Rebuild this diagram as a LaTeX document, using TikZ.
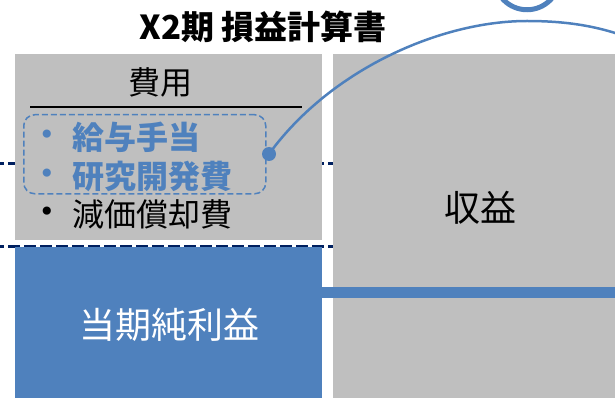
\documentclass[tikz,border=0pt]{standalone}
\usepackage{fontspec}
\newfontfamily\jp{Noto Sans CJK JP}
\newfontfamily\sym{DejaVu Sans}
\definecolor{boxgray}{HTML}{BFBFBF}
\definecolor{accent}{HTML}{4F81BD}
\definecolor{navy}{HTML}{002060}
\begin{document}
\begin{tikzpicture}[x=1pt,y=-1pt,
  panel/.style={fill=boxgray, draw=none, anchor=north west, inner sep=0pt},
  guide/.style={draw=navy, line width=3pt, dash pattern=on 12pt off 4pt, dash phase=8pt},
  label/.style={font=\jp\fontsize{#1}{#1}\selectfont, inner sep=0pt},
  boldlabel/.style={font=\jp\bfseries\fontsize{#1}{#1}\selectfont, inner sep=0pt},
  bul/.style={font=\sym\fontsize{28}{28}\selectfont, inner sep=0pt},
  link/.style={draw=accent, line width=2.5pt}
]
\useasboundingbox (0,0) rectangle (615,398);
\begin{scope}
\clip (0,0) rectangle (615,398);
% guide lines (behind panels)
\coordinate (g1a) at (0,164);
\coordinate (g1b) at (333,164);
\coordinate (g2a) at (0,246);
\coordinate (g2b) at (333,246);
\draw[guide] (g1a) -- (g1b);
\draw[guide] (g2a) -- (g2b);
% panels
\node[panel, minimum width=307pt, minimum height=186pt] (cost) at (15,54) {};
\node[panel, minimum width=282pt, minimum height=345pt] (rev) at (333,54) {};
\node[panel, fill=accent, minimum width=307pt, minimum height=152pt] (profit) at (15,246.5) {};
% bar
\coordinate (barend) at (615,292.5);
\draw[draw=accent, line width=11pt] (profit.east |- barend) -- (barend);
% title
\node[boldlabel=33] (title) at (263,27) {X2期 損益計算書};
% cost heading
\node[label=32] (costhead) at (160,82) {費用};
\coordinate (rulea) at (30,107);
\coordinate (ruleb) at (302,107);
\draw[black, line width=1.5pt] (rulea) -- (ruleb);
% items
\node[bul, text=accent] (b1) at (47,137) {•};
\node[boldlabel=32, anchor=west, text=accent] (i1) at (72,137) {給与手当};
\node[bul, text=accent] (b2) at (47,176) {•};
\node[boldlabel=32, anchor=west, text=accent] (i2) at (72,176) {研究開発費};
\node[bul] (b3) at (47,214) {•};
\node[label=32, anchor=west] (i3) at (72,214) {減価償却費};
% group box
\node[draw=accent, line width=1.5pt, dash pattern=on 6pt off 3pt, rounded corners=11pt,
      minimum width=242pt, minimum height=79pt, anchor=north west, inner sep=0pt] (group) at (23,114) {};
% revenue
\node[label=36] (revtext) at (480,208) {収益};
% profit text
\node[label=36, text=white] (proftext) at (169,325) {当期純利益};
% connector
\node[circle, fill=accent, minimum size=14pt, inner sep=0pt] (dot) at (269,154) {};
\coordinate (far) at (630,38);
\draw[link] (dot.center) .. controls (330,70) and (440,21) .. (527,21) .. controls (570,21) and (600,27) .. (far);
% ring
\node[circle, draw=accent, line width=5pt, minimum size=65.5pt, inner sep=0pt] (ring) at (527,-23) {};
\end{scope}
\end{tikzpicture}
\end{document}
